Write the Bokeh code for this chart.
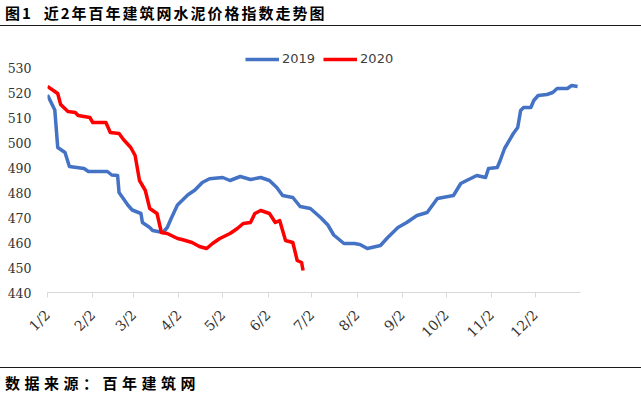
import math
import pandas as pd
from bokeh.plotting import figure
from bokeh.models import (Range1d, FixedTicker, Legend, LegendItem, ColumnDataSource, Div)
from bokeh.layouts import column
from bokeh.embed import file_html
from bokeh.resources import INLINE

# ---------------- data ----------------
dates_2019 = ["01-02", "01-07", "01-09", "01-14", "01-17", "01-27", "01-30", "02-12",
              "02-15", "02-19", "02-20", "02-26", "03-01", "03-07", "03-08", "03-13",
              "03-15", "03-22", "03-25", "03-28", "04-01", "04-08", "04-13", "04-18",
              "04-23", "05-02", "05-07", "05-14", "05-21", "05-28", "06-03", "06-08",
              "06-12", "06-19", "06-24", "07-01", "07-08", "07-13", "07-17", "07-24",
              "07-31", "08-04", "08-09", "08-18", "08-23", "08-30", "09-05", "09-12",
              "09-19", "09-26", "10-07", "10-12", "10-16", "10-23", "10-29", "10-31",
              "11-06", "11-08", "11-11", "11-17", "11-20", "11-22", "11-24", "11-29",
              "12-01", "12-04", "12-10", "12-14", "12-17", "12-24", "12-27", "12-31"]
index_2019 = [519, 513, 498, 496, 490.4, 489.6, 488.4, 488.4,
              487, 486.8, 480, 475, 473, 471.6, 468, 466,
              464.8, 464, 466, 470, 475, 479, 481, 484,
              485.5, 486, 484.8, 486.4, 485.2, 486, 484.8, 482,
              478.8, 478, 474.4, 473.6, 470, 467, 463, 459.6,
              459.6, 459.2, 457.6, 458.8, 462, 466, 468, 470.8,
              472, 477.6, 478.8, 483.6, 484.8, 486.8, 486, 489.6,
              490, 492.8, 497.6, 503.6, 506, 512.8, 514, 514,
              516.8, 518.8, 519.2, 520, 521.6, 521.6, 522.8, 522.4]

dates_2020 = ["01-02", "01-09", "01-11", "01-16", "01-21", "01-23", "01-31", "02-02",
              "02-11", "02-14", "02-20", "02-23", "02-28", "03-03", "03-06", "03-10",
              "03-13", "03-18", "03-21", "03-25", "04-01", "04-04", "04-11", "04-16",
              "04-21", "04-25", "04-30", "05-07", "05-12", "05-16", "05-21", "05-24",
              "05-28", "06-03", "06-07", "06-10", "06-14", "06-19", "06-22", "06-25",
              "06-26"]
index_2020 = [522.4, 519.6, 515.2, 512.4, 512, 510.8, 510, 508,
              508, 504, 503.6, 501.2, 498, 494.8, 484.8, 480.8,
              473.6, 471.6, 464, 463.6, 461.6, 461.2, 460, 458.4,
              457.6, 459.6, 461.6, 463.6, 465.6, 467.6, 468, 471.6,
              472.8, 471.6, 468, 468.8, 460.8, 460, 452.8, 452,
              448.8]

tick_dates = ["01-02", "02-02", "03-02", "04-02", "05-02", "06-02",
              "07-02", "08-02", "09-02", "10-02", "11-02", "12-02"]
tick_labels = ["1/2", "2/2", "3/2", "4/2", "5/2", "6/2",
               "7/2", "8/2", "9/2", "10/2", "11/2", "12/2"]
y_ticks = [440, 450, 460, 470, 480, 490, 500, 510, 520, 530]

series_names = ["2019", "2020"]
title_text = "图1  近2年百年建筑网水泥价格指数走势图"
source_text = "数据来源：百年建筑网"

# ---------------- helpers ----------------
base = pd.Timestamp("2019-01-02")


def to_day(md):
    return (pd.Timestamp("2019-" + md) - base).days


x19 = [to_day(d) for d in dates_2019]
x20 = [to_day(d) for d in dates_2020]
xt = [to_day(d) for d in tick_dates]

W = 641
CJK = "'Noto Sans CJK SC'"

# ---------------- header ----------------
head = Div(width=W, height=30, margin=0,
           text=(f'<div style="width:{W}px;height:26px;box-sizing:border-box;'
                 f'border-bottom:1.5px solid #1a1a1a;padding-left:5px;white-space:pre;'
                 f'font-family:{CJK};font-weight:bold;font-size:15px;letter-spacing:2px;'
                 f'line-height:26px;color:#000">{title_text}</div>'))

# ---------------- main chart ----------------
p = figure(width=W, height=330, x_range=Range1d(0, 365), y_range=Range1d(440, 538),
           toolbar_location=None, output_backend="svg", margin=0,
           min_border_left=47, min_border_right=61, min_border_top=17, min_border_bottom=68)
p.outline_line_color = None
p.xgrid.visible = False
p.ygrid.visible = False

src19 = ColumnDataSource(dict(x=x19, y=index_2019))
src20 = ColumnDataSource(dict(x=x20, y=index_2020))
r19 = p.line("x", "y", source=src19, line_color="#4472C4", line_width=3.5, line_join="round")
r20 = p.line("x", "y", source=src20, line_color="#FF0000", line_width=3.5, line_join="round")

p.xaxis.ticker = FixedTicker(ticks=xt)
p.xaxis.major_label_overrides = {t: l for t, l in zip(xt, tick_labels)}
p.xaxis.major_label_orientation = math.pi / 4
p.xaxis.axis_line_color = "#D9D9D9"
p.xaxis.major_tick_line_color = "#D9D9D9"
p.xaxis.major_tick_out = 5
p.xaxis.major_tick_in = 0
p.xaxis.minor_tick_line_color = None
p.xaxis.major_label_standoff = 15
p.xaxis.major_label_text_font = "DejaVu Serif"
p.xaxis.major_label_text_font_size = "14px"
p.xaxis.major_label_text_color = "#333333"

p.yaxis.ticker = FixedTicker(ticks=y_ticks)
p.yaxis.axis_line_color = None
p.yaxis.major_tick_line_color = None
p.yaxis.minor_tick_line_color = None
p.yaxis.major_label_standoff = 10
p.yaxis.major_label_text_font = "DejaVu Serif"
p.yaxis.major_label_text_font_size = "12.5px"
p.yaxis.major_label_text_color = "#333333"

legend = Legend(items=[LegendItem(label=series_names[0], renderers=[r19]),
                       LegendItem(label=series_names[1], renderers=[r20])],
                orientation="horizontal", location=(198, 226),
                border_line_color=None, background_fill_alpha=0,
                label_text_font="DejaVu Sans", label_text_font_size="13px",
                label_text_color="#404040", glyph_width=34, glyph_height=14,
                label_standoff=3, spacing=8, padding=2, margin=0)
p.add_layout(legend)

# ---------------- footer ----------------
foot = Div(width=W, height=36, margin=0,
           text=(f'<div style="width:{W}px;margin-top:7px;box-sizing:border-box;'
                 f'border-top:1.5px solid #1a1a1a;padding-left:5px;white-space:pre;'
                 f'font-family:{CJK};font-weight:bold;font-size:15px;letter-spacing:4.5px;'
                 f'line-height:30px;color:#000">{source_text}</div>'))

layout = column(head, p, foot, spacing=0)
open("out.html", "w").write(file_html(layout, INLINE))
